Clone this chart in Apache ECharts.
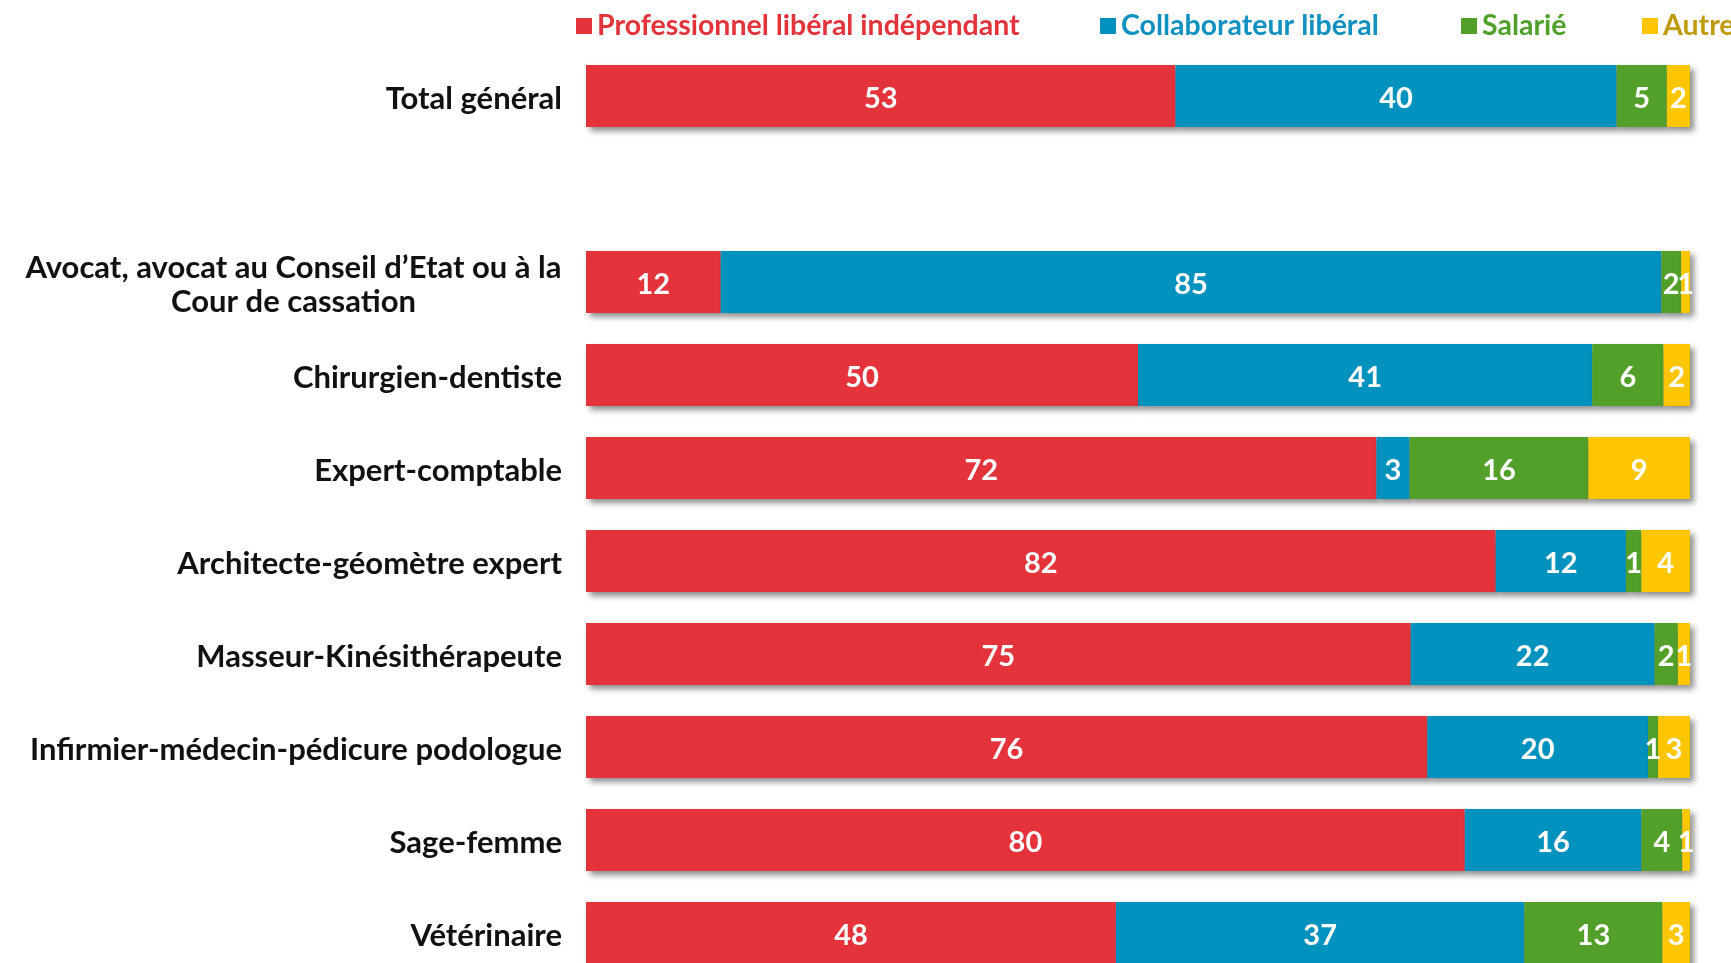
<!DOCTYPE html>
<html>
<head>
<meta charset="utf-8">
<script src="https://cdn.jsdelivr.net/npm/echarts@6/dist/echarts.min.js"></script>
<style>
  html, body { margin: 0; padding: 0; background: #ffffff; }
  #chart { width: 1731px; height: 963px; }
</style>
</head>
<body>
<div id="chart"></div>
<script>
// Répartition (%) par statut d'exercice, par profession
const categories = [
  'Total général',
  ' ',
  'Avocat, avocat au Conseil d’Etat ou à la\nCour de cassation',
  'Chirurgien-dentiste',
  'Expert-comptable',
  'Architecte-géomètre expert',
  'Masseur-Kinésithérapeute',
  'Infirmier-médecin-pédicure podologue',
  'Sage-femme',
  'Vétérinaire'
];

const seriesNames = [
  'Professionnel libéral indépendant',
  'Collaborateur libéral',
  'Salarié',
  'Autre'
];

const independant   = [53.4,  null, 12.2, 50.0,  71.6, 82.4, 74.7, 76.2, 79.6, 48.0];
const collaborateur = [39.95, null, 85.2, 41.15, 3.0,  11.8, 22.1, 20.0, 16.0, 37.0];
const salarie       = [4.55,  null, 1.8,  6.45,  16.2, 1.4,  2.1,  0.9,  3.7,  12.5];
const autre         = [2.1,   null, 0.8,  2.4,   9.2,  4.4,  1.1,  2.9,  0.7,  2.5];

const barColors   = ['#e4333b', '#0092be', '#52a029', '#fdc600'];
const legendText  = ['#e3343c', '#1191c0', '#50a02a', '#bf9b0d'];
const legendLeft  = [576, 1100, 1461, 1642];

const FONT = 'Lato, "Noto Sans", sans-serif';
const catFontSize = 31;

// width of the longest line of a multi-line category, to centre its lines
function textWidth(str) {
  const ctx = document.createElement('canvas').getContext('2d');
  ctx.font = 'bold ' + catFontSize + 'px ' + FONT;
  return Math.ceil(ctx.measureText(str).width);
}
let blockWidth = 0;
categories.forEach(c => {
  if (c.indexOf('\n') >= 0) {
    c.split('\n').forEach(l => { blockWidth = Math.max(blockWidth, textWidth(l)); });
  }
});

const chart = echarts.init(document.getElementById('chart'), null, { renderer: 'canvas' });

const values = [independant, collaborateur, salarie, autre];

const series = seriesNames.map((name, i) => ({
  name: name,
  type: 'bar',
  stack: 'total',
  barWidth: 62,
  data: values[i].map(v => (v === null ? '-' : v)),
  itemStyle: {
    color: barColors[i],
    shadowColor: 'rgba(0,0,0,0.45)',
    shadowBlur: 6,
    shadowOffsetX: 4,
    shadowOffsetY: 4
  },
  label: {
    show: true,
    position: 'inside',
    offset: [0, 3],
    color: '#ffffff',
    fontFamily: FONT,
    fontWeight: 'bold',
    fontSize: 29,
    formatter: p => String(Math.round(p.value))
  },
  emphasis: { disabled: true }
}));

const legends = seriesNames.map((name, i) => ({
  data: [name],
  left: legendLeft[i],
  top: 11,
  padding: 0,
  orient: 'horizontal',
  width: 1000,
  icon: 'rect',
  itemWidth: 16,
  itemHeight: 16,
  selectedMode: false,
  textStyle: {
    color: legendText[i],
    fontFamily: FONT,
    fontWeight: 'bold',
    fontSize: 28.5,
    lineHeight: 30
  }
}));

chart.setOption({
  animation: false,
  backgroundColor: '#ffffff',
  legend: legends,
  grid: {
    left: 586,
    right: 41,
    top: 49.5,
    height: 930,
    containLabel: false,
    outerBoundsMode: 'none'
  },
  xAxis: {
    type: 'value',
    min: 0,
    max: 100,
    show: false
  },
  yAxis: {
    type: 'category',
    inverse: true,
    data: categories,
    axisLine: { show: false },
    axisTick: { show: false },
    splitLine: { show: false },
    axisLabel: {
      margin: 24,
      color: '#111111',
      fontFamily: FONT,
      fontWeight: 'bold',
      fontSize: catFontSize,
      lineHeight: 34,
      padding: [5, 0, 0, 0],
      interval: 0,
      formatter: function (value) {
        if (value.indexOf('\n') < 0) return value;
        return value.split('\n').map(l => '{c|' + l + '}').join('\n');
      },
      rich: {
        c: {
          width: blockWidth,
          align: 'center',
          color: '#111111',
          fontFamily: FONT,
          fontWeight: 'bold',
          fontSize: catFontSize,
          lineHeight: 34
        }
      }
    }
  },
  series: series
});
</script>
</body>
</html>
